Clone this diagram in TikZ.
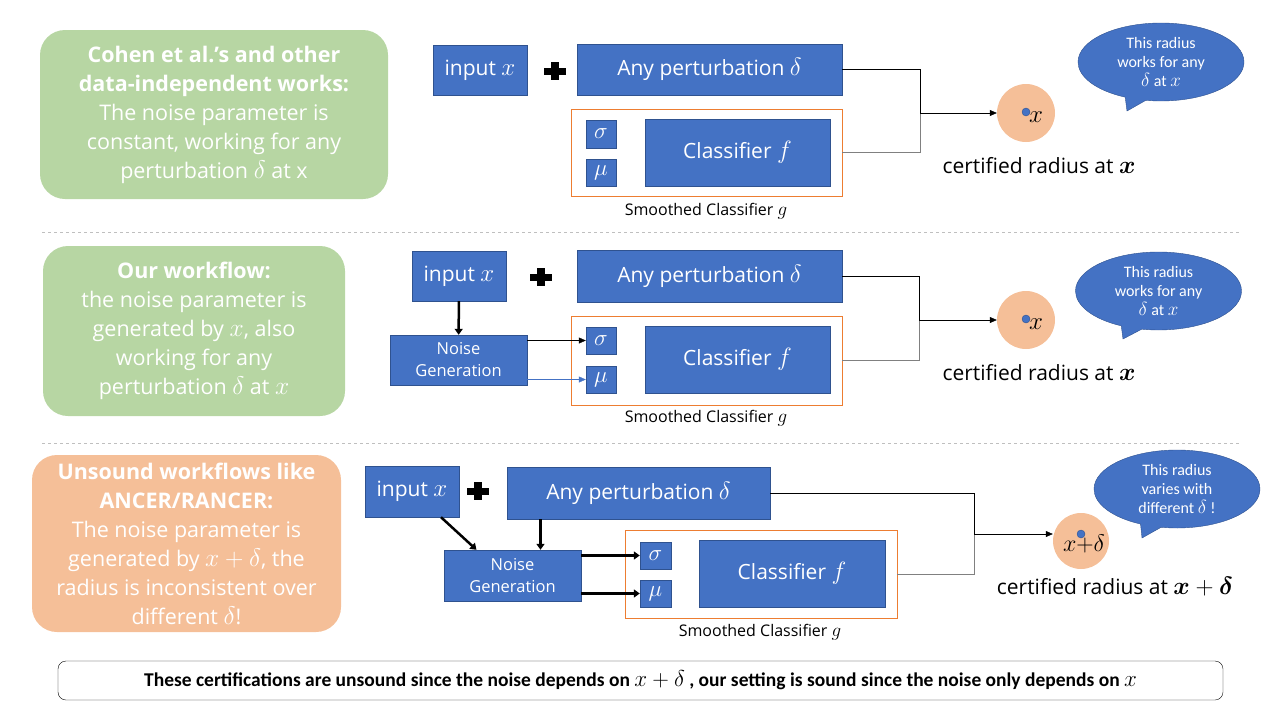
\RequirePackage{fix-cm}
\documentclass[tikz,border=0pt]{standalone}
\usepackage{amsmath, bm}
\usepackage{fontspec}
\setmainfont{Open Sans}
\newfontfamily\bubblefont{Carlito}
\usetikzlibrary{shapes.geometric, shapes.callouts, arrows.meta, positioning, calc}

% math a bit larger than the text, to match the x-height of the sans
\DeclareMathSizes{21}{25}{18}{14}
\DeclareMathSizes{21.5}{25.5}{18}{14}
\DeclareMathSizes{16}{19}{14}{10}
\DeclareMathSizes{16.5}{19.5}{14}{10}
\DeclareMathSizes{19}{23}{16}{12}
\DeclareMathSizes{19.5}{23}{16}{12}
\DeclareMathSizes{20}{24}{17}{12}

\definecolor{boxblue}{HTML}{4472C4}
\definecolor{boxedge}{HTML}{2F528F}
\definecolor{greenfill}{HTML}{B7D6A3}
\definecolor{peach}{HTML}{F5BF98}
\definecolor{frameorange}{HTML}{ED7D31}
\definecolor{sepgray}{HTML}{BFBFBF}

\tikzset{
    blk/.style={rectangle, draw=boxedge, fill=boxblue, text=white, inner sep=0pt, align=center},
    bigtext/.style={font=\fontsize{21}{25}\selectfont},
    smalltext/.style={font=\fontsize{16.5}{22}\selectfont},
    param/.style={blk, minimum width=30pt, minimum height=27pt, font=\fontsize{19}{20}\selectfont},
    smframe/.style={rectangle, draw=frameorange, inner sep=0pt},
    sidenote/.style={rectangle, rounded corners=25pt, text=white, align=center, inner sep=0pt, font=\fontsize{21.5}{29}\selectfont},
    bubble/.style={ellipse callout, draw=boxedge, fill=boxblue, text=white, align=center, inner sep=0pt, minimum width=166pt, minimum height=78pt, font=\bubblefont\fontsize{16}{19}\selectfont},
    ball/.style={circle, fill=peach, inner sep=0pt, minimum size=58pt},
    dot/.style={circle, draw=boxedge, fill=boxblue, inner sep=0pt, minimum size=8pt},
    arrow/.style={-{Triangle[length=7pt,width=6pt]}},
    thickarrow/.style={line width=2.5pt, -{Triangle[length=6pt,width=8pt]}},
    caption/.style={font=\fontsize{16}{18}\selectfont},
    radius/.style={font=\fontsize{21}{25}\selectfont},
    plusmark/.pic={\fill (-11,-3.5) rectangle (11,3.5); \fill (-4,-9) rectangle (4,9);}
}

\begin{document}
\begin{tikzpicture}[x=1pt, y=-1pt]
    \useasboundingbox (0,0) rectangle (1280,720);

    % Row 1: data-independent works
    \node (note1) [sidenote, fill=greenfill, minimum width=348pt, minimum height=169pt] at (214,114.5)
        {\textbf{Cohen et al.’s and other}\\ \textbf{data-independent works:}\\ The noise parameter is\\ constant, working for any\\ perturbation $\delta$ at x};
    \node (input1) [blk, bigtext, minimum width=94pt, minimum height=50pt] at (480,70) {input $x$};
    \pic at (555,71) {plusmark};
    \node (pert1) [blk, bigtext, minimum width=265pt, minimum height=51pt] at (709.5,69.5) {Any perturbation $\delta$};
    \node (frame1) [smframe, minimum width=271pt, minimum height=87pt] at (706.5,152.5) {};
    \node (sigma1) [param, minimum height=28pt] at (601,134) {$\sigma$};
    \node (mu1) [param] at (601,172.5) {$\mu$};
    \node (cls1) [blk, bigtext, minimum width=185pt, minimum height=67pt] at (737.5,152.5) {Classifier $f$};
    \node (cap1) [caption] at (706,211) {Smoothed Classifier $g$};

    \node (ball1) [ball] at (1026,113) {};
    \node (dot1) [dot] at (1026,112) {};
    \node (xlab1) [font=\fontsize{21}{21}\selectfont] at (1036,117) {$x$};
    \node (rad1) [radius] at (1039,166) {certified radius at $\bm{x}$};
    \node (say1) [bubble, callout absolute pointer={(1127,111)}] at (1161,62) {This radius\\ works for any\\ $\delta$ at $x$};

    \coordinate (j1) at (920,113);
    \draw (pert1.east) -| (j1);
    \draw [gray] (frame1.east) -| (j1);
    \draw [arrow] (j1) -- (ball1.west);

    \draw [sepgray, dashed] (42,232) -- (1240,232);

    % Row 2: our workflow
    \node (note2) [sidenote, fill=greenfill, minimum width=302pt, minimum height=170pt] at (194,331)
        {\textbf{Our workflow:}\\ the noise parameter is\\ generated by $x$, also\\ working for any\\ perturbation $\delta$ at $x$};
    \node (input2) [blk, bigtext, minimum width=94pt, minimum height=50pt] at (459,276) {input $x$};
    \pic at (541,277) {plusmark};
    \node (pert2) [blk, bigtext, minimum width=265pt, minimum height=52pt] at (709.5,276) {Any perturbation $\delta$};
    \node (noise2) [blk, smalltext, minimum width=137pt, minimum height=50pt] at (458.5,360) {Noise\\ Generation};
    \node (frame2) [smframe, minimum width=271pt, minimum height=89pt] at (706.5,360.5) {};
    \node (sigma2) [param] at (601,340.5) {$\sigma$};
    \node (mu2) [param] at (601,379.5) {$\mu$};
    \node (cls2) [blk, bigtext, minimum width=185pt, minimum height=67pt] at (737.5,359.5) {Classifier $f$};
    \node (cap2) [caption] at (706,418) {Smoothed Classifier $g$};

    \draw [thickarrow] (input2) -- (noise2);
    \draw [arrow] (noise2.east |- sigma2) -- (sigma2.west);
    \draw [arrow, boxblue] (noise2.east |- mu2) -- (mu2.west);

    \node (ball2) [ball] at (1026,320) {};
    \node (dot2) [dot] at (1026,319) {};
    \node (xlab2) [font=\fontsize{21}{21}\selectfont] at (1036,324) {$x$};
    \node (rad2) [radius] at (1039,373) {certified radius at $\bm{x}$};
    \node (say2) [bubble, callout absolute pointer={(1123,339)}] at (1158.5,291) {This radius\\ works for any\\ $\delta$ at $x$};

    \coordinate (j2) at (919,320);
    \draw (pert2.east) -| (j2);
    \draw [gray] (frame2.east) -| (j2);
    \draw [arrow] (j2) -- (ball2.west);

    \draw [sepgray, dashed] (42,443) -- (1240,443);

    % Row 3: unsound workflows
    \node (note3) [sidenote, fill=peach, minimum width=309pt, minimum height=177pt] at (186.5,543.5)
        {\textbf{Unsound workflows like}\\ \textbf{ANCER/RANCER:}\\ The noise parameter is\\ generated by $x+\delta$, the\\ radius is inconsistent over\\ different $\delta$!};
    \node (input3) [blk, bigtext, minimum width=94pt, minimum height=51pt] at (412,491.5) {input $x$};
    \pic at (478,491) {plusmark};
    \node (pert3) [blk, bigtext, minimum width=263pt, minimum height=52pt] at (638.5,493) {Any perturbation $\delta$};
    \node (noise3) [blk, smalltext, minimum width=137pt, minimum height=51pt] at (512.5,575.5) {Noise\\ Generation};
    \node (frame3) [smframe, minimum width=272pt, minimum height=88pt] at (761,574) {};
    \node (sigma3) [param, minimum width=31pt] at (655.5,555.5) {$\sigma$};
    \node (mu3) [param, minimum width=31pt] at (655.5,593.5) {$\mu$};
    \node (cls3) [blk, bigtext, minimum width=186pt, minimum height=67pt] at (792,573.5) {Classifier $f$};
    \node (cap3) [caption] at (760,632) {Smoothed Classifier $g$};

    \coordinate (n3left) at ([xshift=-36pt]noise3.north);
    \coordinate (n3right) at ([xshift=28pt]noise3.north);
    \draw [thickarrow] ([xshift=29pt]input3.south) -- (n3left);
    \draw [thickarrow] (pert3.south -| n3right) -- (n3right);
    \draw [thickarrow] (noise3.east |- sigma3) -- (sigma3.west);
    \draw [thickarrow] (noise3.east |- mu3) -- (mu3.west);

    \node (ball3) [ball, minimum size=56pt] at (1081,541) {};
    \node (xlab3) [font=\fontsize{20}{20}\selectfont] at (1084,544) {$x{+}\delta$};
    \node (dot3) [dot] at (1081,534) {};
    \node (rad3) [radius] at (1115,587) {certified radius at $\bm{x}+\bm{\delta}$};
    \node (say3) [bubble, callout absolute pointer={(1142,538)}] at (1177,489) {This radius\\ varies with\\ different $\delta$ !};

    \coordinate (j3) at (974,534);
    \draw (pert3.east) -| (j3);
    \draw [gray] (frame3.east) -| (j3);
    \draw [arrow] (j3) -- (j3 -| ball3.west);

    % Summary
    \node (summary) [rectangle, draw, rounded corners=8pt, minimum width=1165pt, minimum height=39pt, font=\bubblefont\bfseries\fontsize{19.5}{22}\selectfont] at (640.5,680.5)
        {These certifications are unsound since the noise depends on $x+\delta$ , our setting is sound since the noise only depends on $x$};

\end{tikzpicture}
\end{document}
